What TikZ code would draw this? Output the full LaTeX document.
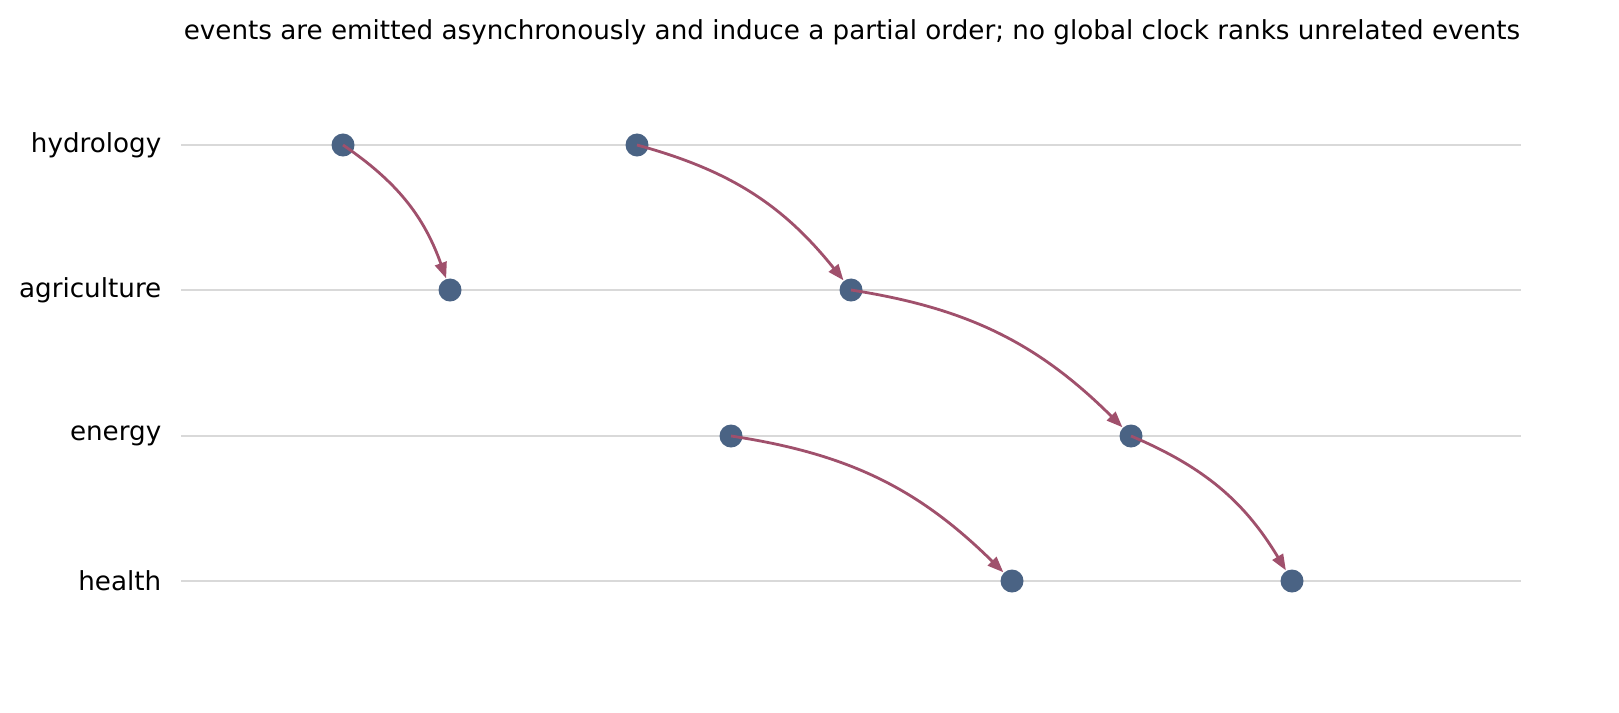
\documentclass[tikz,border=0pt]{standalone}
\usepackage{fontspec}
\setmainfont{DejaVu Sans}
\usetikzlibrary{arrows.meta}
\definecolor{dotblue}{HTML}{4A6384}
\definecolor{flowred}{HTML}{A0506C}
\definecolor{gridgray}{HTML}{D9D9D9}
\tikzset{
  event/.style={circle,fill=dotblue,inner sep=0pt,minimum size=0.23cm},
  lane/.style={anchor=east,inner sep=0pt,font=\fontsize{7.45}{9}\selectfont},
  flow/.style={draw=flowred,line width=0.8pt,-{Triangle[length=0.16cm,width=0.12cm]}},
  gridline/.style={draw=gridgray,line width=0.8pt}
}
\begin{document}
\begin{tikzpicture}[x=0.01cm,y=-0.01cm] %four lanes of events
  \useasboundingbox (0,0) rectangle (1619,712);
  \node[font=\fontsize{7.45}{9}\selectfont] (title) at (852,32) {events are emitted asynchronously and induce a partial order; no global clock ranks unrelated events};
  % lanes
  \foreach \y/\name/\txt in {145/hyd/hydrology,290/agr/agriculture,436/ene/energy,581/hea/health}{
    \draw[gridline] (181,\y) -- (1521,\y);
    \node[lane] (l\name) at (162,\y) {\txt};
  }
  % events
  \node[event] (hyd1) at (343,145) {};
  \node[event] (hyd2) at (637,145) {};
  \node[event] (agr1) at (450,290) {};
  \node[event] (agr2) at (851,290) {};
  \node[event] (ene1) at (731,436) {};
  \node[event] (ene2) at (1131,436) {};
  \node[event] (hea1) at (1012,581) {};
  \node[event] (hea2) at (1292,581) {};
  % causal links
  \draw[flow] (hyd1.center) to[bend left=18] (agr1);
  \draw[flow] (hyd2.center) to[bend left=18] (agr2);
  \draw[flow] (agr2.center) to[bend left=18] (ene2);
  \draw[flow] (ene1.center) to[bend left=18] (hea1);
  \draw[flow] (ene2.center) to[bend left=18] (hea2);
\end{tikzpicture}
\end{document}
